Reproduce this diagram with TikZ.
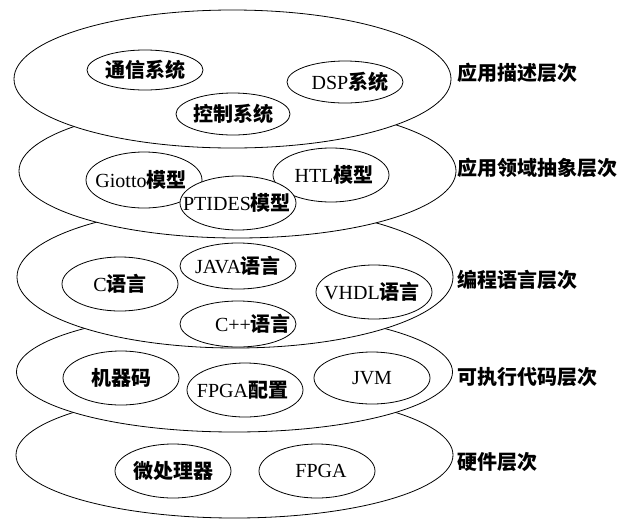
\documentclass[tikz,border=0pt]{standalone}
\usepackage{fontspec}
\setmainfont{Liberation Serif}
\newfontfamily\cjkf{Noto Sans CJK SC}
\newcommand\zh[1]{{\cjkf\bfseries #1}}
\newcommand\ct[2][0pt]{\makebox[0pt]{\hspace*{#1}#2}}
\usetikzlibrary{shapes.geometric}
\begin{document}
\begin{tikzpicture}[x=1pt,y=-1pt,
  layer/.style={ellipse, draw, fill=white, line width=0.8pt, inner sep=0pt},
  item/.style={ellipse, draw, fill=white, line width=0.8pt, inner sep=0pt,
    minimum width=116pt, minimum height=54pt, font=\fontsize{20}{21}\selectfont},
  lvl/.style={anchor=west, inner sep=0pt, font=\fontsize{20}{21}\selectfont}]
\useasboundingbox (0,0) rectangle (629,520);
% layer 5
\node[layer, minimum width=437pt, minimum height=126pt] (L5) at (234.5,455) {};
\node[item] (mp) at (173,471) {\ct{\zh{微处理器}}};
\node[item] (fpga) at (317,471) {\ct[8pt]{FPGA}};
% layer 4
\node[layer, minimum width=436pt, minimum height=120pt] (L4) at (234.5,372) {};
\node[item] (jqm) at (121,378) {\ct{\zh{机器码}}};
\node[item] (fpgapz) at (245,390) {\ct[-5pt]{FPGA\zh{配置}}};
\node[item, minimum height=52pt] (jvm) at (372,378) {\ct{JVM}};
% layer 3
\node[layer, minimum width=436pt, minimum height=142pt] (L3) at (235,277) {};
\node[item] (c) at (120,284) {\ct{C\zh{语言}}};
\node[item, minimum height=46pt] (java) at (238,266) {\ct{JAVA\zh{语言}}};
\node[item] (vhdl) at (374,292) {\ct[-4pt]{VHDL\zh{语言}}};
\node[item, minimum height=46pt] (cpp) at (238,324) {\ct[30pt]{C++\zh{语言}}};
% layer 2
\node[layer, minimum width=437pt, minimum height=134pt] (L2) at (237.5,171) {};
\node[item, minimum height=56pt] (giotto) at (144,180) {\ct[-6pt]{Giotto\zh{模型}}};
\node[item] (htl) at (331,175) {\ct[6pt]{HTL\zh{模型}}};
\node[item] (ptides) at (238,203) {\ct[-2pt]{PTIDES\zh{模型}}};
% layer 1
\node[layer, minimum width=437pt, minimum height=138pt] (L1) at (232.5,79) {};
\node[item, minimum height=40pt] (tx) at (145,70) {\ct{\zh{通信系统}}};
\node[item, minimum width=114pt, minimum height=42pt] (kz) at (233,114) {\ct{\zh{控制系统}}};
\node[item, minimum height=42pt] (dsp) at (345,82) {\ct[10pt]{DSP\zh{系统}}};
% level labels
\node[lvl] (t1) at (457,73) {\zh{应用描述层次}};
\node[lvl] (t2) at (457,168) {\zh{应用领域抽象层次}};
\node[lvl] (t3) at (457,280) {\zh{编程语言层次}};
\node[lvl] (t4) at (457,377) {\zh{可执行代码层次}};
\node[lvl] (t5) at (457,462) {\zh{硬件层次}};
\end{tikzpicture}
\end{document}
